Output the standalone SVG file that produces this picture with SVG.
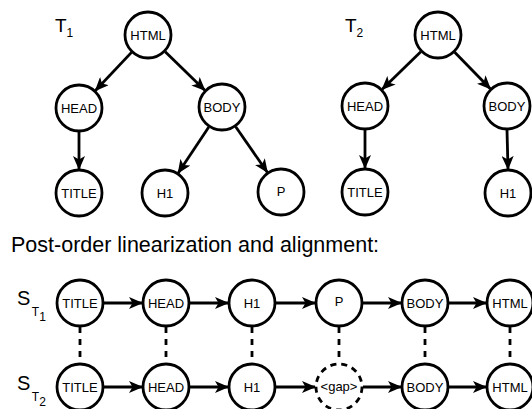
<svg xmlns="http://www.w3.org/2000/svg" width="532" height="409" viewBox="0 0 532 409">
<style>
.n{fill:#fff;stroke:#000;stroke-width:2.8}
.g{fill:#fff;stroke:#000;stroke-width:2.8;stroke-dasharray:6 5}
.t{font-family:"Liberation Sans",Arial,sans-serif;font-size:13px;text-anchor:middle;fill:#000}
.e{stroke:#000;stroke-width:2.8;fill:none;marker-end:url(#arr)}
.d{stroke:#000;stroke-width:2.8;fill:none;stroke-dasharray:6 6}
.lab{font-family:"Liberation Sans",Arial,sans-serif;fill:#000}
</style>
<defs>
<marker id="arr" viewBox="0 0 14 12" refX="13" refY="6" markerWidth="14" markerHeight="12" orient="auto" markerUnits="userSpaceOnUse">
<path d="M0,0 L14,6 L0,12 L3.5,6 Z" fill="#000"/>
</marker>
</defs>
<rect width="532" height="409" fill="#fff"/>
<g id="connectors">
<line class="e" x1="131.5" y1="52.4" x2="95.5" y2="90.5"/>
<line class="e" x1="165.2" y1="51.7" x2="204.8" y2="90.3"/>
<line class="e" x1="79" y1="132" x2="79" y2="169"/>
<line class="e" x1="208.8" y1="127" x2="178.2" y2="173"/>
<line class="e" x1="235.7" y1="126.7" x2="267.3" y2="172.3"/>
<line class="e" x1="420.8" y1="51.7" x2="382.2" y2="89.3"/>
<line class="e" x1="454.7" y1="52.2" x2="490.3" y2="88.8"/>
<line class="e" x1="365" y1="130" x2="365" y2="168"/>
<line class="e" x1="507" y1="130" x2="508" y2="169"/>
<line class="e" x1="104" y1="303" x2="142" y2="303"/>
<line class="e" x1="190" y1="303" x2="228" y2="303"/>
<line class="e" x1="276" y1="303" x2="315" y2="303"/>
<line class="e" x1="363" y1="303" x2="401" y2="303"/>
<line class="e" x1="449" y1="303" x2="486" y2="303"/>
<line class="e" x1="104" y1="387" x2="142" y2="387"/>
<line class="e" x1="190" y1="387" x2="228" y2="387"/>
<line class="e" x1="276" y1="387" x2="315" y2="387"/>
<line class="e" x1="363" y1="387" x2="401" y2="387"/>
<line class="e" x1="449" y1="387" x2="486" y2="387"/>
<line class="d" x1="80" y1="327" x2="80" y2="363"/>
<line class="d" x1="166" y1="327" x2="166" y2="363"/>
<line class="d" x1="252" y1="327" x2="252" y2="363"/>
<line class="d" x1="339" y1="327" x2="339" y2="363"/>
<line class="d" x1="425" y1="327" x2="425" y2="363"/>
<line class="d" x1="510" y1="327" x2="510" y2="363"/>
</g>
<g id="labels">
<text class="lab" x="55" y="32" font-size="19">T<tspan font-size="12" dy="5">1</tspan></text>
<text class="lab" x="345" y="32" font-size="19">T<tspan font-size="12" dy="5">2</tspan></text>
<text class="lab" x="11" y="252" font-size="21.5">Post-order linearization and alignment:</text>
<text class="lab" x="17" y="305" font-size="20">S<tspan font-size="12" dy="11" dx="1.5">T</tspan><tspan font-size="12" dy="5">1</tspan></text>
<text class="lab" x="17" y="390" font-size="20">S<tspan font-size="12" dy="11" dx="1.5">T</tspan><tspan font-size="12" dy="5">2</tspan></text>
</g>
<g id="t1-html"><circle class="n" cx="148" cy="35" r="23"/><text class="t" x="148" y="39.5">HTML</text></g>
<g id="t1-head"><circle class="n" cx="79" cy="108" r="23"/><text class="t" x="79" y="112.5">HEAD</text></g>
<g id="t1-body"><circle class="n" cx="222" cy="107" r="23"/><text class="t" x="222" y="111.5">BODY</text></g>
<g id="t1-title"><circle class="n" cx="79" cy="193" r="23"/><text class="t" x="79" y="197.5">TITLE</text></g>
<g id="t1-h1"><circle class="n" cx="165" cy="193" r="23"/><text class="t" x="165" y="198">H1</text></g>
<g id="t1-p"><circle class="n" cx="281" cy="192" r="23"/><text class="t" x="281" y="196">P</text></g>
<g id="t2-html"><circle class="n" cx="438" cy="35" r="23"/><text class="t" x="438" y="39.5">HTML</text></g>
<g id="t2-head"><circle class="n" cx="365" cy="106" r="23"/><text class="t" x="365" y="110.5">HEAD</text></g>
<g id="t2-body"><circle class="n" cx="507" cy="106" r="23"/><text class="t" x="507" y="110.5">BODY</text></g>
<g id="t2-title"><circle class="n" cx="365" cy="192" r="23"/><text class="t" x="365" y="196.5">TITLE</text></g>
<g id="t2-h1"><circle class="n" cx="508" cy="193" r="23"/><text class="t" x="508" y="198">H1</text></g>
<g id="s1-title"><circle class="n" cx="80" cy="303" r="23"/><text class="t" x="80" y="307.5">TITLE</text></g>
<g id="s1-head"><circle class="n" cx="166" cy="303" r="23"/><text class="t" x="166" y="307.5">HEAD</text></g>
<g id="s1-h1"><circle class="n" cx="252" cy="303" r="23"/><text class="t" x="252" y="307.5">H1</text></g>
<g id="s1-p"><circle class="n" cx="339" cy="303" r="23"/><text class="t" x="339" y="306">P</text></g>
<g id="s1-body"><circle class="n" cx="425" cy="303" r="23"/><text class="t" x="425" y="307.5">BODY</text></g>
<g id="s1-html"><circle class="n" cx="510" cy="303" r="23"/><text class="t" x="510" y="307.5">HTML</text></g>
<g id="s2-title"><circle class="n" cx="80" cy="387" r="23"/><text class="t" x="80" y="391.5">TITLE</text></g>
<g id="s2-head"><circle class="n" cx="166" cy="387" r="23"/><text class="t" x="166" y="391.5">HEAD</text></g>
<g id="s2-h1"><circle class="n" cx="252" cy="387" r="23"/><text class="t" x="252" y="391.5">H1</text></g>
<g id="s2-gap"><circle class="g" cx="339" cy="387" r="23"/><text class="t" x="339" y="391" font-size="12">&lt;gap&gt;</text></g>
<g id="s2-body"><circle class="n" cx="425" cy="387" r="23"/><text class="t" x="425" y="391.5">BODY</text></g>
<g id="s2-html"><circle class="n" cx="510" cy="387" r="23"/><text class="t" x="510" y="391.5">HTML</text></g>
</svg>
